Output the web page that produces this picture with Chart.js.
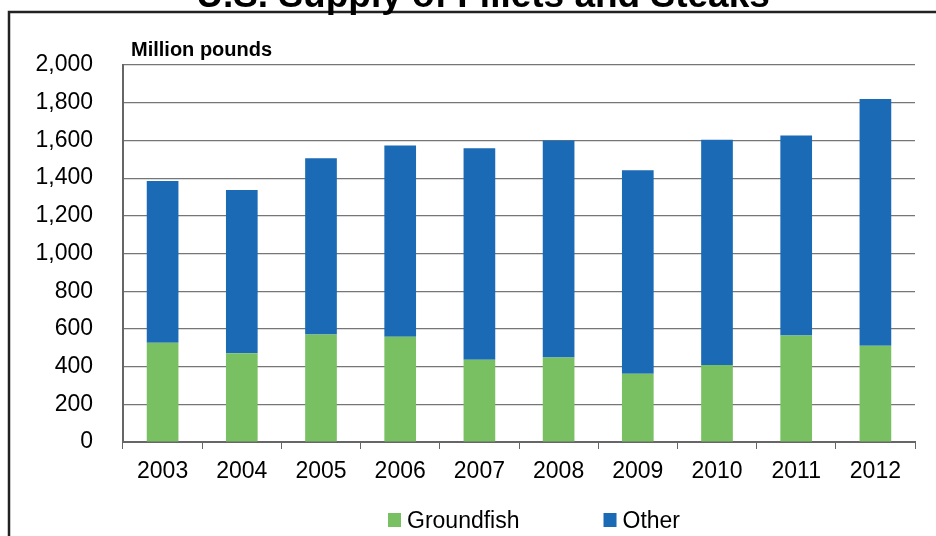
<!DOCTYPE html>
<html>
<head>
<meta charset="utf-8">
<title>U.S. Supply of Fillets and Steaks</title>
<script src="https://cdn.jsdelivr.net/npm/chart.js@4/dist/chart.umd.min.js"></script>
<style>
  html, body { margin: 0; padding: 0; background: #fff; }
  #wrap { width: 936px; height: 536px; position: relative; }
</style>
</head>
<body>
<div id="wrap"><canvas id="supplyChart"></canvas></div>
<script>
// data (million pounds)
const years = ["2003", "2004", "2005", "2006", "2007", "2008", "2009", "2010", "2011", "2012"];
const groundfish = [527, 471, 570, 559, 436, 448, 362, 409, 565, 510];
const other = [858, 866, 935, 1014, 1123, 1152, 1079, 1194, 1061, 1310];
const yTicks = [0, 200, 400, 600, 800, 1000, 1200, 1400, 1600, 1800, 2000];

const FONT = "'Liberation Sans', Arial, sans-serif";

// frame, titles and legend drawn on top of the chart
const decorPlugin = {
  id: "decor",
  afterDraw(chart) {
    const ctx = chart.ctx;
    ctx.save();

    // outer frame
    ctx.strokeStyle = "#222";
    ctx.lineWidth = 2.5;
    ctx.strokeRect(9, 12, 940, 540);

    // main title (cut off at the top)
    ctx.fillStyle = "#000";
    ctx.font = "bold 37px " + FONT;
    ctx.textAlign = "center";
    ctx.textBaseline = "alphabetic";
    ctx.fillText("U.S. Supply of Fillets and Steaks", 483, 7);

    // unit label
    ctx.font = "bold 20px " + FONT;
    ctx.textAlign = "left";
    ctx.fillText("Million pounds", 131, 56);

    // legend
    ctx.font = "23px " + FONT;
    let x = 388;
    chart.data.datasets.forEach((ds) => {
      ctx.fillStyle = ds.backgroundColor;
      ctx.fillRect(x, 513, 13, 14);
      ctx.fillStyle = "#000";
      ctx.fillText(ds.label, x + 19, 528);
      x += 19 + ctx.measureText(ds.label).width + 84;
    });

    ctx.restore();
  },
};

const ctx = document.getElementById("supplyChart").getContext("2d");

new Chart(ctx, {
  type: "bar",
  data: {
    labels: years,
    datasets: [
      {
        label: "Groundfish",
        data: groundfish,
        backgroundColor: "#78C061",
        barPercentage: 0.4,
        categoryPercentage: 1.0,
      },
      {
        label: "Other",
        data: other,
        backgroundColor: "#1A6AB5",
        barPercentage: 0.4,
        categoryPercentage: 1.0,
      },
    ],
  },
  options: {
    responsive: true,
    maintainAspectRatio: false,
    animation: false,
    layout: {
      padding: { top: 65, right: 21, left: 0, bottom: 0 },
    },
    plugins: {
      legend: { display: false },
      title: { display: false },
      tooltip: { enabled: false },
    },
    scales: {
      x: {
        stacked: true,
        afterFit: (axis) => {
          axis.height = 94;
        },
        grid: {
          offset: true,
          drawOnChartArea: false,
          drawTicks: true,
          tickLength: 7,
          color: "#666",
          lineWidth: 1,
        },
        border: { color: "#666", width: 2 },
        ticks: {
          color: "#000",
          font: { family: FONT, size: 23 },
          padding: 9,
          maxRotation: 0,
        },
      },
      y: {
        stacked: true,
        min: 0,
        max: 2000,
        afterFit: (axis) => {
          axis.width = 123;
        },
        afterBuildTicks: (axis) => {
          axis.ticks = yTicks.map((v) => ({ value: v }));
        },
        grid: {
          drawTicks: false,
          color: "#767676",
          lineWidth: 1.2,
        },
        border: { color: "#666", width: 2 },
        ticks: {
          color: "#000",
          font: { family: FONT, size: 23 },
          padding: 30,
          callback: (v) => v.toLocaleString("en-US"),
        },
      },
    },
  },
  plugins: [decorPlugin],
});
</script>
</body>
</html>
